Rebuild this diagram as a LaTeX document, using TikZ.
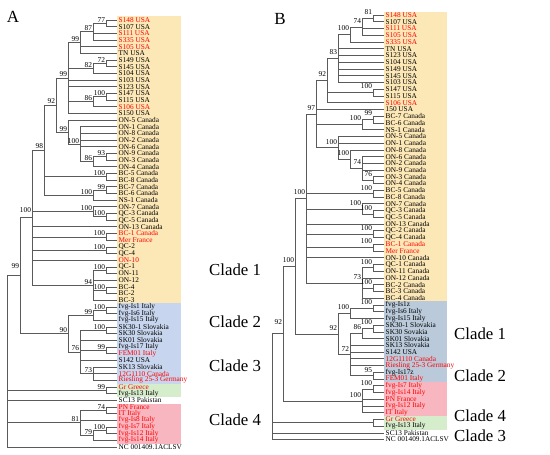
\documentclass[tikz,border=0pt]{standalone}
\usepackage{fontspec}
\setmainfont{Liberation Serif}
\usetikzlibrary{calc}
\definecolor{rd}{RGB}{255,0,0}
\definecolor{bk}{RGB}{0,0,0}
\definecolor{cyel}{RGB}{252,231,182}
\definecolor{cbluea}{RGB}{199,214,238}
\definecolor{cblueb}{RGB}{186,202,218}
\definecolor{cgreen}{RGB}{214,237,204}
\definecolor{cpink}{RGB}{248,183,192}
\definecolor{brc}{RGB}{90,90,90}
\newcommand\mknode[4]{\path ($(#3)!.5!(#4)$) coordinate (#1m); \coordinate (#1) at (#2,0 |- #1m);}
\newcommand\kids[2]{\foreach \kd in {#2}{\draw[br] (#1) |- (\kd);}}
\begin{document}
\begin{tikzpicture}[x=1pt,y=-1pt,
  br/.style={draw=brc,line width=0.55pt},
  leaf/.style={anchor=west,inner sep=0pt,xshift=1.5pt,font=\fontsize{7.3}{8}\selectfont},
  bsa/.style={anchor=south east,inner sep=0pt,xshift=-0.8pt,yshift=0.8pt,font=\fontsize{7.4}{8}\selectfont},
  bsb/.style={anchor=south east,inner sep=0pt,xshift=-0.8pt,yshift=3.3pt,font=\fontsize{7.4}{8}\selectfont},
  clade/.style={anchor=west,inner sep=0pt,font=\fontsize{16.8}{19}\selectfont},
  panel/.style={inner sep=0pt,font=\fontsize{17}{19}\selectfont}]
\useasboundingbox[fill=white] (0,0) rectangle (550,455);
% ---------- boxes
\fill[cyel]   (117,16)    rectangle (181,303.4);
\fill[cbluea] (117,303.4) rectangle (181,383.5);
\fill[cgreen] (117,383.5) rectangle (181,396.9);
\fill[cpink]  (117,403.5) rectangle (181,443.5);
\fill[cyel]   (384,11.5)  rectangle (447,301.4);
\fill[cblueb] (384,301.4) rectangle (447,382.3);
\fill[cpink]  (384,382.3) rectangle (447,416.1);
\fill[cgreen] (384,416.1) rectangle (447,429.5);
% ---------- panel letters
\node[panel] (lA) at (13,17) {A};
\node[panel] (lB) at (280,19) {B};
% ---------- leaves A
\foreach \cl/\tx [count=\i] in {rd/S148 USA, bk/S107 USA, rd/S111 USA, rd/S335 USA, rd/S105 USA, bk/TN USA, bk/S149 USA, bk/S145 USA, bk/S104 USA, bk/S103 USA, bk/S123 USA, bk/S147 USA, bk/S115 USA, rd/S106 USA, bk/S150 USA, bk/ON-5 Canada, bk/ON-1 Canada, bk/ON-8 Canada, bk/ON-2 Canada, bk/ON-6 Canada, bk/ON-9 Canada, bk/ON-3 Canada, bk/ON-4 Canada, bk/BC-5 Canada, bk/BC-8 Canada, bk/BC-7 Canada, bk/BC-6 Canada, bk/NS-1 Canada, bk/ON-7 Canada, bk/QC-3 Canada, bk/QC-5 Canada, bk/ON-13 Canada, rd/BC-1 Canada, rd/Mer France, bk/QC-2, bk/QC-4, rd/ON-10, bk/QC-1, bk/ON-11, bk/ON-12, bk/BC-4, bk/BC-2, bk/BC-3, bk/fvg-Is1 Italy, bk/fvg-Is6 Italy, bk/fvg-Is15 Italy, bk/SK30-1 Slovakia, bk/SK30 Slovakia, bk/SK01 Slovakia, bk/fvg-Is17 Italy, rd/FEM01 Italy, bk/S142 USA, bk/SK13 Slovakia, rd/12G1110 Canada, rd/Riesling 25-3 Germany, rd/Gr Greece, bk/fvg-Is13 Italy, bk/SC13 Pakistan, rd/PN France, rd/IT Italy, rd/fvg-Is8 Italy, rd/fvg-Is7 Italy, rd/fvg-Is12 Italy, rd/fvg-Is14 Italy, bk/NC 001409.1ACLSV}
{ \coordinate (a\i) at (117,{20+(\i-1)*6.67});
  \node[leaf,text=\cl] (ta\i) at (a\i) {\tx}; }
% ---------- leaves B
\foreach \cl/\tx [count=\i] in {rd/S148 USA, bk/S107 USA, rd/S111 USA, rd/S105 USA, rd/S335 USA, bk/TN USA, bk/S123 USA, bk/S104 USA, bk/S149 USA, bk/S145 USA, bk/S103 USA, bk/S147 USA, bk/S115 USA, rd/S106 USA, bk/150 USA, bk/BC-7 Canada, bk/BC-6 Canada, bk/NS-1 Canada, bk/ON-5 Canada, bk/ON-1 Canada, bk/ON-8 Canada, bk/ON-6 Canada, bk/ON-2 Canada, bk/ON-9 Canada, bk/ON-3 Canada, bk/ON-4 Canada, bk/BC-5 Canada, bk/BC-8 Canada, bk/ON-7 Canada, bk/QC-3 Canada, bk/QC-5 Canada, bk/ON-13 Canada, bk/QC-2 Canada, bk/QC-4 Canada, rd/BC-1 Canada, rd/Mer France, bk/ON-10 Canada, bk/QC-1 Canada, bk/ON-11 Canada, bk/ON-12 Canada, bk/BC-2 Canada, bk/BC-3 Canada, bk/BC-4 Canada, bk/fvg-Is1z, bk/fvg-Is6 Italy, bk/fvg-Is15 Italy, bk/SK30-1 Slovakia, bk/SK30 Sovakia, bk/SK01 Slovakia, bk/SK13 Slovakia, bk/S142 USA, rd/12G1110 Canada, rd/Riesling 25-3 Germany, bk/fvg-Is17z, rd/FEM01 Italy, rd/fvg-Is7 Italy, rd/fvg-Is14 Italy, rd/PN France, rd/fvg-Is12 Italy, rd/IT Italy, rd/Gr Greece, bk/fvg-Is13 Italy, bk/SC13 Pakistan, bk/NC 001409.1ACLSV}
{ \coordinate (b\i) at (384,{15+(\i-1)*6.74});
  \node[leaf,text=\cl] (tb\i) at (b\i) {\tx}; }
% ---------- tree A
\mknode{a77}{106}{a1}{a2}      \kids{a77}{a1,a2}
\mknode{a87}{93}{a77}{a4}      \kids{a87}{a77,a3,a4}
\mknode{a99u1}{80}{a87}{a6}    \kids{a99u1}{a87,a5,a6}
\mknode{a72}{106}{a7}{a8}      \kids{a72}{a7,a8}
\mknode{a82}{93}{a72}{a9}      \kids{a82}{a72,a9}
\mknode{a100s}{106}{a12}{a13}  \kids{a100s}{a12,a13}
\mknode{a86s}{93}{a100s}{a14}  \kids{a86s}{a100s,a14}
\mknode{a99u}{68}{a99u1}{a15}  \kids{a99u}{a99u1,a82,a10,a11,a86s,a15}
\mknode{a93}{106}{a21}{a22}    \kids{a93}{a21,a22}
\mknode{a86o}{93}{a93}{a23}    \kids{a86o}{a93,a23}
\mknode{a100o}{80}{a17}{a86o}  \kids{a100o}{a17,a18,a19,a20,a86o}
\mknode{a99o}{68}{a16}{a100o}  \kids{a99o}{a16,a100o}
\mknode{a92}{56}{a99u}{a99o}   \kids{a92}{a99u,a99o}
\mknode{a100b5}{106}{a24}{a25} \kids{a100b5}{a24,a25}
\mknode{a99b7}{106}{a26}{a27}  \kids{a99b7}{a26,a27}
\mknode{a100b7}{93}{a99b7}{a28} \kids{a100b7}{a99b7,a28}
\mknode{a98}{44}{a92}{a100b7}  \kids{a98}{a92,a100b5,a100b7}
\mknode{a100q3}{106}{a30}{a31} \kids{a100q3}{a30,a31}
\mknode{a100o7}{93}{a29}{a100q3} \kids{a100o7}{a29,a100q3}
\mknode{a100b1}{106}{a33}{a34} \kids{a100b1}{a33,a34}
\mknode{a100q2}{106}{a35}{a36} \kids{a100q2}{a35,a36}
\mknode{a100q1}{106}{a38}{a39} \kids{a100q1}{a38,a39}
\mknode{a100b4}{106}{a41}{a42} \kids{a100b4}{a41,a42}
\mknode{a94}{93}{a100q1}{a43}  \kids{a94}{a100q1,a40,a100b4,a43}
\mknode{aC1}{32}{a98}{a94}     \kids{aC1}{a98,a100o7,a32,a100b1,a100q2,a37,a94}
\mknode{a100f1}{106}{a44}{a45} \kids{a100f1}{a44,a45}
\mknode{a99f}{93}{a100f1}{a46} \kids{a99f}{a100f1,a46}
\mknode{a100k}{106}{a47}{a48}  \kids{a100k}{a47,a48}
\mknode{a99f17}{106}{a50}{a51} \kids{a99f17}{a50,a51}
\mknode{a73}{93}{a53}{a55}     \kids{a73}{a53,a54,a55}
\mknode{a76}{80}{a100k}{a73}   \kids{a76}{a100k,a49,a99f17,a52,a73}
\mknode{a90}{68}{a99f}{a76}    \kids{a90}{a99f,a76}
\mknode{a99r}{20}{aC1}{a90}    \kids{a99r}{aC1,a90}
\mknode{a99g}{106}{a56}{a57}   \kids{a99g}{a56,a57}
\mknode{a74}{106}{a59}{a60}    \kids{a74}{a59,a60}
\mknode{a100i}{106}{a62}{a63}  \kids{a100i}{a62,a63}
\mknode{a79}{93}{a100i}{a64}   \kids{a79}{a100i,a64}
\mknode{a81}{80}{a74}{a79}     \kids{a81}{a74,a61,a79}
\mknode{aroot}{7}{a99r}{a65}   \kids{aroot}{a99r,a99g,a58,a81,a65}
\foreach \n/\v in {a77/77,a87/87,a99u1/99,a72/72,a82/82,a100s/100,a86s/86,a99u/99,a93/93,a86o/86,a100o/100,a99o/99,a92/92,a100b5/100,a99b7/99,a100b7/100,a98/98,a100q3/100,a100o7/100,a100b1/100,a100q2/100,a100q1/100,a100b4/100,a94/94,a100f1/100,a99f/99,a100k/100,a99f17/99,a73/73,a76/76,a90/90,a99g/99,a74/74,a100i/100,a79/79,a81/81}
  {\node[bsa] at (\n) {\v};}
\node[bsa,yshift=4pt] at (aC1) {100};
\node[bsa,yshift=6pt] at (a99r) {99};
% ---------- tree B
\mknode{b81}{373}{b1}{b2}      \kids{b81}{b1,b2}
\mknode{b74}{362}{b81}{b4}     \kids{b74}{b81,b3,b4}
\mknode{b100a}{350}{b74}{b5}   \kids{b100a}{b74,b5}
\mknode{b83}{338}{b100a}{b11}  \kids{b83}{b100a,b6,b7,b8,b9,b10,b11}
\mknode{b100s}{373}{b12}{b13}  \kids{b100s}{b12,b13}
\mknode{b92}{327}{b83}{b14}    \kids{b92}{b83,b100s,b14}
\mknode{b99c}{373}{b16}{b17}   \kids{b99c}{b16,b17}
\mknode{b100c}{362}{b99c}{b18} \kids{b100c}{b99c,b18}
\mknode{b76}{373}{b25}{b26}    \kids{b76}{b25,b26}
\mknode{b74o}{362}{b22}{b76}   \kids{b74o}{b22,b23,b24,b76}
\mknode{b100o2}{350}{b21}{b74o} \kids{b100o2}{b21,b74o}
\mknode{b100o}{338}{b19}{b100o2} \kids{b100o}{b19,b20,b100o2}
\mknode{b97}{316}{b92}{b100o}  \kids{b97}{b92,b15,b100c,b100o}
\mknode{b100b5}{373}{b27}{b28} \kids{b100b5}{b27,b28}
\mknode{b100q3}{373}{b30}{b31} \kids{b100q3}{b30,b31}
\mknode{b100o7}{362}{b29}{b100q3} \kids{b100o7}{b29,b100q3}
\mknode{b100q2}{373}{b33}{b34} \kids{b100q2}{b33,b34}
\mknode{b100b1}{373}{b35}{b36} \kids{b100b1}{b35,b36}
\mknode{b100q1}{373}{b38}{b39} \kids{b100q1}{b38,b39}
\mknode{b100b2}{373}{b41}{b42} \kids{b100b2}{b41,b42}
\mknode{b73}{362}{b100q1}{b43} \kids{b73}{b100q1,b40,b100b2,b43}
\mknode{bC1}{306}{b97}{b73}    \kids{bC1}{b97,b100b5,b100o7,b32,b100q2,b100b1,b37,b73}
\mknode{b100f}{373}{b44}{b45}  \kids{b100f}{b44,b45}
\mknode{b100f2}{350}{b100f}{b46} \kids{b100f2}{b100f,b46}
\mknode{b100k}{373}{b47}{b48}  \kids{b100k}{b47,b48}
\mknode{b86}{362}{b100k}{b49}  \kids{b86}{b100k,b49}
\mknode{b95}{373}{b54}{b55}    \kids{b95}{b54,b55}
\mknode{b72}{350}{b86}{b95}    \kids{b72}{b86,b50,b51,b52,b53,b95}
\mknode{b92c}{338}{b100f2}{b72} \kids{b92c}{b100f2,b72}
\mknode{b100r}{295}{bC1}{b92c} \kids{b100r}{bC1,b92c}
\mknode{b100p}{373}{b56}{b57}  \kids{b100p}{b56,b57}
\mknode{b100p2}{362}{b100p}{b60} \kids{b100p2}{b100p,b58,b59,b60}
\mknode{b92r}{283}{b100r}{b100p2} \kids{b92r}{b100r,b100p2}
\mknode{bg}{373}{b61}{b62}     \kids{bg}{b61,b62}
\mknode{broot}{272}{b92r}{b64} \kids{broot}{b92r,bg,b63,b64}
\foreach \n/\v in {b81/81,b74/74,b100a/100,b83/83,b100s/100,b92/92,b99c/99,b100c/100,b76/76,b74o/74,b100o2/100,b100o/100,b97/97,b100b5/100,b100q3/100,b100o7/100,b100q2/100,b100b1/100,b100q1/100,b100b2/100,b73/73,bC1/100,b100f/100,b100f2/100,b100k/100,b86/86,b95/95,b72/72,b92c/92,b100r/100,b100p/100,b100p2/100}
  {\node[bsb] at (\n) {\v};}
\node[bsb,yshift=5pt] at (b92r) {92};
% ---------- clade labels
\node[clade] (ca1) at (209,270) {Clade 1};
\node[clade] (ca2) at (209,322) {Clade 2};
\node[clade] (ca3) at (209,366) {Clade 3};
\node[clade] (ca4) at (209,420) {Clade 4};
\node[clade] (cb1) at (454,334) {Clade 1};
\node[clade] (cb2) at (454,376) {Clade 2};
\node[clade] (cb4) at (454,416) {Clade 4};
\node[clade] (cb3) at (454,436) {Clade 3};
\end{tikzpicture}
\end{document}
